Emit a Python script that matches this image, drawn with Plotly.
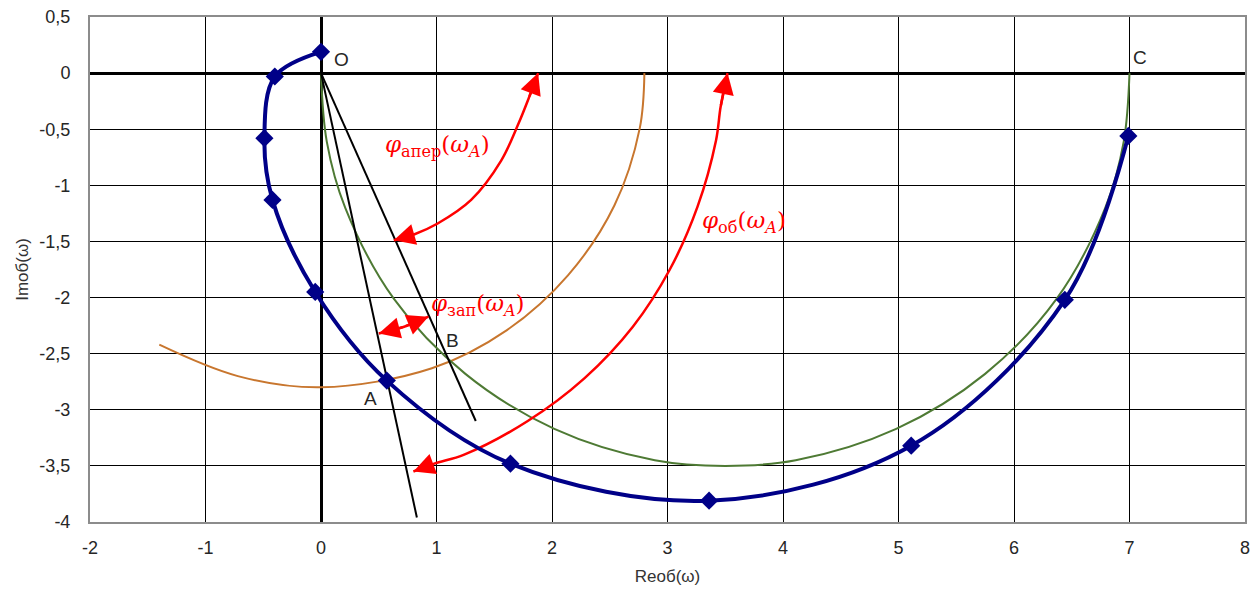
import plotly.graph_objects as go

# ---- data ----
blue_x = [0.00, -0.40, -0.49, -0.42, -0.05, 0.57, 1.64, 3.36, 5.11, 6.44, 6.99]
blue_y = [0.19, -0.03, -0.58, -1.13, -1.95, -2.74, -3.48, -3.81, -3.32, -2.02, -0.56]

green_x = [0.00, 0.05, 0.21, 0.63, 1.25, 2.02, 2.89, 3.50, 4.11, 4.98, 5.75, 6.37, 6.79, 6.95, 7.00]
green_y = [0.00, -0.61, -1.20, -2.01, -2.68, -3.17, -3.45, -3.50, -3.45, -3.17, -2.68, -2.01, -1.20, -0.61, 0.00]

orange_x = [2.80, 2.76, 2.54, 2.14, 1.61, 0.96, 0.00, -0.72, -1.40]
orange_y = [0.00, -0.49, -1.18, -1.80, -2.29, -2.63, -2.80, -2.70, -2.42]

lineA_x = [0.00, 0.83]
lineA_y = [0.00, -3.96]
lineB_x = [0.00, 1.34]
lineB_y = [0.00, -3.10]

phi_ob_x = [3.52, 3.46, 3.42, 3.26, 3.02, 2.70, 2.28, 1.79, 1.24, 0.98, 0.80]
phi_ob_y = [0.00, -0.30, -0.60, -1.19, -1.75, -2.26, -2.72, -3.10, -3.40, -3.48, -3.55]

phi_aper_x = [1.88, 1.80, 1.71, 1.56, 1.30, 1.01, 0.80, 0.63]
phi_aper_y = [0.00, -0.22, -0.45, -0.78, -1.13, -1.34, -1.44, -1.49]

phi_zap_x = [0.50, 0.72, 0.93]
phi_zap_y = [-2.32, -2.26, -2.17]

x_tickvals = [-2, -1, 0, 1, 2, 3, 4, 5, 6, 7, 8]
x_ticktext = ["-2", "-1", "0", "1", "2", "3", "4", "5", "6", "7", "8"]
y_tickvals = [0.5, 0, -0.5, -1, -1.5, -2, -2.5, -3, -3.5, -4]
y_ticktext = ["0,5", "0", "-0,5", "-1", "-1,5", "-2", "-2,5", "-3", "-3,5", "-4"]

point_labels = ["O", "C", "B", "A"]
point_lx = [0.18, 7.09, 1.14, 0.43]
point_ly = [0.12, 0.14, -2.38, -2.90]

phi_texts = [
    "<i>φ</i><sub>апер</sub>(<i>ω</i><sub><i>A</i></sub>)",
    "<i>φ</i><sub>об</sub>(<i>ω</i><sub><i>A</i></sub>)",
    "<i>φ</i><sub>зап</sub>(<i>ω</i><sub><i>A</i></sub>)",
]
phi_tx = [1.01, 3.66, 1.36]
phi_ty = [-0.65, -1.33, -2.07]

RED = "#ff0000"

fig = go.Figure()

fig.add_trace(go.Scatter(x=orange_x, y=orange_y, mode="lines",
                         line=dict(color="#c8762e", width=2, shape="spline", smoothing=1),
                         hoverinfo="skip"))
fig.add_trace(go.Scatter(x=green_x, y=green_y, mode="lines",
                         line=dict(color="#4e7a34", width=2, shape="spline", smoothing=1),
                         hoverinfo="skip"))
fig.add_trace(go.Scatter(x=lineA_x, y=lineA_y, mode="lines",
                         line=dict(color="black", width=2)))
fig.add_trace(go.Scatter(x=lineB_x, y=lineB_y, mode="lines",
                         line=dict(color="black", width=2)))
fig.add_trace(go.Scatter(x=phi_ob_x, y=phi_ob_y, mode="lines",
                         line=dict(color=RED, width=2.5, shape="spline", smoothing=1)))
fig.add_trace(go.Scatter(x=phi_aper_x, y=phi_aper_y, mode="lines",
                         line=dict(color=RED, width=2.5, shape="spline", smoothing=1)))
fig.add_trace(go.Scatter(x=phi_zap_x, y=phi_zap_y, mode="lines",
                         line=dict(color=RED, width=2.5, shape="spline", smoothing=1)))
fig.add_trace(go.Scatter(x=blue_x, y=blue_y, mode="lines+markers",
                         line=dict(color="#000088", width=4, shape="spline", smoothing=1),
                         marker=dict(symbol="diamond", size=14, color="#000088")))

annotations = []

def arrow(hx, hy, tx, ty):
    annotations.append(dict(x=hx, y=hy, ax=tx, ay=ty, xref="x", yref="y",
                            axref="x", ayref="y", text="", showarrow=True,
                            arrowhead=2, arrowsize=1.7, arrowwidth=2.5,
                            arrowcolor=RED, standoff=0, startstandoff=0))

arrow(phi_ob_x[0], phi_ob_y[0], phi_ob_x[1], phi_ob_y[1])
arrow(phi_ob_x[-1], phi_ob_y[-1], phi_ob_x[-2], phi_ob_y[-2])
arrow(phi_aper_x[0], phi_aper_y[0], phi_aper_x[1], phi_aper_y[1])
arrow(phi_aper_x[-1], phi_aper_y[-1], phi_aper_x[-2], phi_aper_y[-2])
arrow(phi_zap_x[0], phi_zap_y[0], phi_zap_x[1], phi_zap_y[1])
arrow(phi_zap_x[-1], phi_zap_y[-1], phi_zap_x[-2], phi_zap_y[-2])

for t, lx, ly in zip(point_labels, point_lx, point_ly):
    annotations.append(dict(x=lx, y=ly, text=t, showarrow=False, xref="x", yref="y",
                            font=dict(family="Liberation Sans, Arial", size=19, color="#262626")))

for t, lx, ly in zip(phi_texts, phi_tx, phi_ty):
    annotations.append(dict(x=lx, y=ly, text=t, showarrow=False, xref="x", yref="y",
                            font=dict(family="DejaVu Serif, serif", size=23, color=RED)))

axis_common = dict(showgrid=True, gridcolor="black", gridwidth=1,
                   zeroline=True, zerolinecolor="black", zerolinewidth=2.5,
                   showline=True, linecolor="#8c8c8c", linewidth=2, mirror=True,
                   ticks="outside", tickcolor="rgba(0,0,0,0)", ticklabeloverflow="allow",
                   automargin=False,
                   tickfont=dict(family="Liberation Sans, Arial", size=18, color="#262626"))

fig.update_layout(
    width=1242, height=578,
    margin=dict(l=82, r=5, t=9, b=64),
    paper_bgcolor="white", plot_bgcolor="white",
    showlegend=False,
    annotations=annotations,
    xaxis=dict(range=[-2, 8], tickvals=x_tickvals, ticktext=x_ticktext, ticklen=8,
               title=dict(text="Reоб(ω)", standoff=14,
                          font=dict(family="Liberation Sans, Arial", size=17, color="#333333")),
               **axis_common),
    yaxis=dict(range=[-4, 0.5], tickvals=y_tickvals, ticktext=y_ticktext, ticklen=14,
               title=dict(text="Imоб(ω)", standoff=6,
                          font=dict(family="Liberation Sans, Arial", size=17, color="#333333")),
               **axis_common),
)

fig.write_html("out.html")
